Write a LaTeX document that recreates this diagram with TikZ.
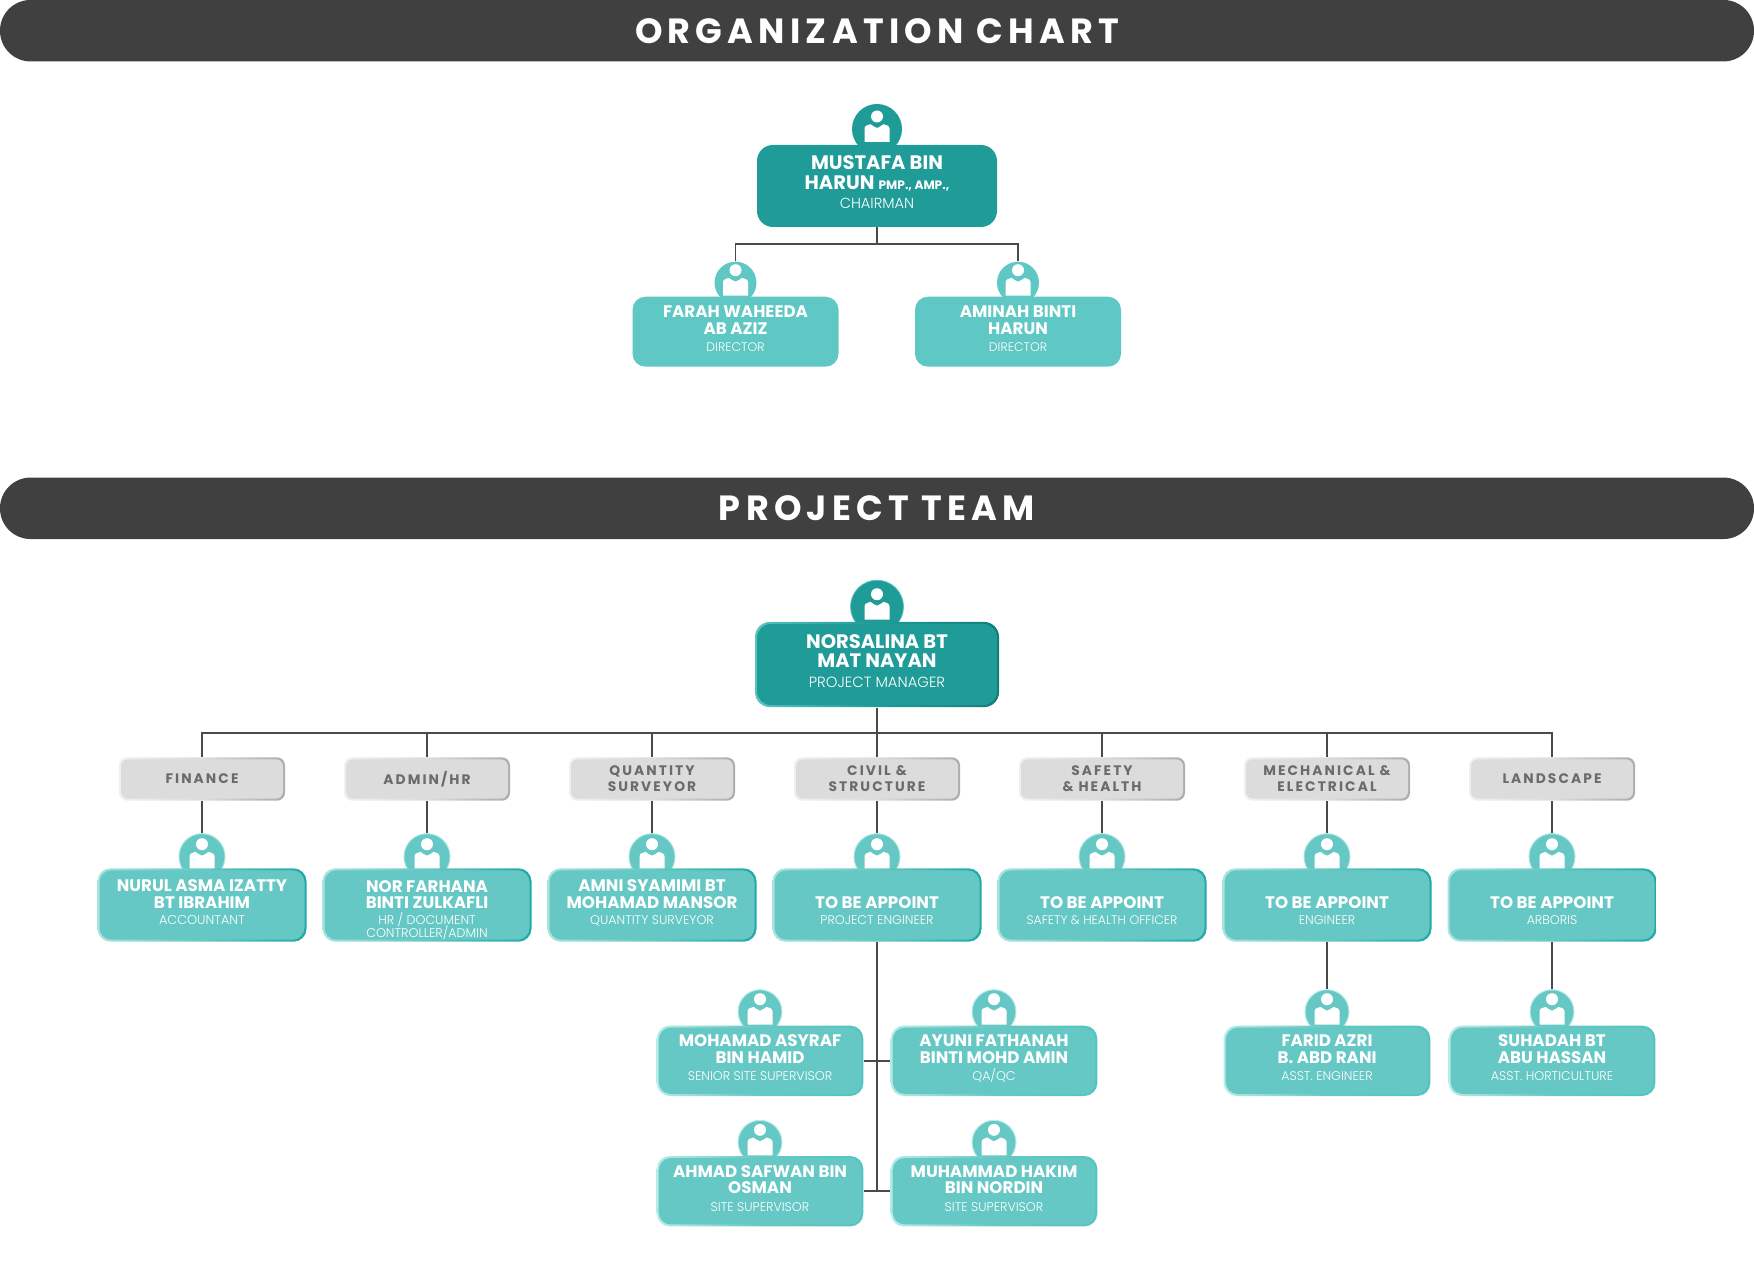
\documentclass[tikz,border=0pt]{standalone}
\usepackage{fontspec}
\setmainfont{Poppins}
\newfontfamily\lightfont{Poppins Light}
\newfontfamily\deptfont[LetterSpace=15]{Poppins}
\newfontfamily\titlefont[LetterSpace=15]{Poppins}
\usetikzlibrary{backgrounds,positioning}
\definecolor{bannerc}{HTML}{404040}
\definecolor{wirec}{HTML}{4A4A4A}
\definecolor{chiefc}{HTML}{1F9B98}
\definecolor{chiefhi}{HTML}{5CC4BF}
\definecolor{chieflo}{HTML}{147D7A}
\definecolor{topc}{HTML}{5FC7C4}
\definecolor{staffc}{HTML}{66C8C4}
\definecolor{staffhi}{HTML}{A8E4DF}
\definecolor{stafflo}{HTML}{1FA9A6}
\definecolor{lowhi}{HTML}{B5ECE8}
\definecolor{lowlo}{HTML}{55C4C0}
\definecolor{deptc}{HTML}{DCDCDC}
\definecolor{depthi}{HTML}{F0F0F0}
\definecolor{deptlo}{HTML}{ACACAC}
\definecolor{depttext}{HTML}{6B6B6B}
\newcommand\jobrole[2]{{\lightfont\mdseries\fontsize{#1}{#1}\selectfont #2}}
\newcommand\personicon{%
  \fill[white] (0,-12.5) circle[radius=6];
  \fill[white] (-12.5,13) -- (-12.5,-0.5) .. controls (-12.5,-3) and (-9,-4.5) .. (-6.5,-4.8)
    .. controls (-4.5,-3.5) and (-2,-1.5) .. (0,-1) .. controls (2,-1.5) and (4.5,-3.5) .. (6.5,-4.8)
    .. controls (9,-4.5) and (12.5,-3) .. (12.5,-0.5) -- (12.5,13) -- cycle;}
\tikzset{
  banner/.style={rectangle,fill=bannerc,text=white,minimum width=877pt,minimum height=30.75pt,rounded corners=15.3pt,inner sep=0pt,text height=12.6pt,text depth=0pt,font=\titlefont\bfseries\fontsize{17.5}{17.5}\selectfont},
  avatar/.style={circle,inner sep=0pt,minimum size=#1*0.5pt,path picture={
    \begin{scope}[shift={(path picture bounding box.center)},scale=#1/52]\personicon\end{scope}}},
  bevelbox/.style args={#1/#2/#3/#4}{rectangle,inner sep=0pt,rounded corners=#4,left color=#1,right color=#2,middle color=#3,
    path picture={\fill[#3,rounded corners=#4-0.5pt] ([xshift=1pt,yshift=-1pt]path picture bounding box.north west) rectangle ([xshift=-1pt,yshift=1pt]path picture bounding box.south east);}},
  namebox/.style={text=white,align=center,font=\bfseries\fontsize{8.35}{8.3}\selectfont},
  topbox/.style={rectangle,inner sep=0pt,rounded corners=6.5pt,fill=topc,namebox,minimum width=103pt,minimum height=35pt,text height=21pt,text depth=1pt},
  staffbox/.style={bevelbox=staffhi/stafflo/staffc/6.5pt,namebox,minimum width=104.5pt,minimum height=36.7pt,text height=20pt,text depth=1pt},
  lowbox/.style={bevelbox=lowhi/lowlo/staffc/6.5pt,namebox,minimum width=103.3pt,minimum height=35.2pt,text height=21pt,text depth=1pt},
  deptbox/.style={bevelbox=depthi/deptlo/deptc/4pt,text=depttext,align=center,minimum width=83pt,minimum height=21.7pt,font=\deptfont\bfseries\fontsize{6.9}{8}\selectfont},
  staffpic/.style={avatar=46,fill=staffc,draw=staffhi,line width=.5pt},
  lowpic/.style={avatar=44,fill=staffc,draw=lowhi,line width=.5pt},
  wire/.style={draw=wirec,line width=.85pt}
}
\begin{document}
\begin{tikzpicture}[x=0.5pt,y=-0.5pt]
  \useasboundingbox (0,0) rectangle (1754,1267);
  \node [banner] (orgtitle) at (877,30.7) {ORGANIZATION CHART};
  \node [banner] (teamtitle) at (877,508.3) {PROJECT TEAM};
  % board
  \node [avatar=50,fill=chiefc] (mustafapic) at (877,129) {};
  \node [rectangle,inner sep=0pt,rounded corners=8pt,fill=chiefc,text=white,align=center,minimum width=120pt,minimum height=41pt,text height=23.6pt,text depth=1pt,font=\bfseries\fontsize{9.75}{10}\selectfont] (mustafa) at (877,186)
    {MUSTAFA BIN\hspace{2pt}\\HARUN {\fontsize{6.1}{6}\selectfont PMP., AMP.,}\\[-.6pt]\jobrole{7.3}{CHAIRMAN}};
  \node [avatar=42,fill=topc] (farahpic) at (735.5,282.7) {};
  \node [avatar=42,fill=topc] (aminahpic) at (1018,282.7) {};
  \node [topbox] (farah) at (735.5,331.7) {FARAH WAHEEDA\hspace{2pt}\\AB AZIZ\\[.5pt]\jobrole{6.2}{DIRECTOR}};
  \node [topbox] (aminah) at (1018,331.7) {AMINAH BINTI\hspace{2pt}\\HARUN\\[.5pt]\jobrole{6.2}{DIRECTOR}};
  % project manager
  \node [avatar=53,fill=chiefc,draw=chiefhi,line width=.4pt] (pmpic) at (877,606.7) {};
  \node [bevelbox=chiefhi/chieflo/chiefc/7.5pt,text=white,align=center,minimum width=122pt,minimum height=42.6pt,text height=23.5pt,text depth=1pt,font=\bfseries\fontsize{9.75}{9.5}\selectfont] (pm) at (877,664.5)
    {NORSALINA BT\\MAT NAYAN\\[.5pt]\jobrole{7.4}{PROJECT MANAGER}};
  % departments
  \node [deptbox] (finance) at (202,779) {FINANCE};
  \node [deptbox] (adminhr) at (427,779) {ADMIN/HR};
  \node [deptbox] (qs) at (652,779) {QUANTITY\\SURVEYOR};
  \node [deptbox] (civil) at (877,779) {CIVIL \&\\STRUCTURE};
  \node [deptbox] (safety) at (1102,779) {SAFETY\\\& HEALTH};
  \node [deptbox] (mech) at (1327,779) {MECHANICAL \&\\ELECTRICAL};
  \node [deptbox] (landscape) at (1552,779) {LANDSCAPE};
  % staff
  \foreach \who/\xpos in {nurul/202,norfar/427,amni/652,engineer/877,safetyoff/1102,mecheng/1327,arboris/1552}
    \node [staffpic] (\who pic) at (\xpos,856.7) {};
  \node [staffbox] (nurul) at (202,905) {NURUL ASMA IZATTY\\BT IBRAHIM\\[-.4pt]\jobrole{6.4}{ACCOUNTANT}};
  \node [staffbox,text height=33pt] (norfar) at (427,905) {NOR FARHANA\\BINTI ZULKAFLI\\[-.4pt]\jobrole{6.3}{HR / DOCUMENT}\\[-2.1pt]\jobrole{6.3}{CONTROLLER/ADMIN}};
  \node [staffbox] (amni) at (652,905) {AMNI SYAMIMI BT\\MOHAMAD MANSOR\\[-.4pt]\jobrole{6.3}{QUANTITY SURVEYOR}};
  \node [staffbox] (engineer) at (877,905) {TO BE APPOINT\\[-.4pt]\jobrole{6.3}{PROJECT ENGINEER}};
  \node [staffbox] (safetyoff) at (1102,905) {TO BE APPOINT\\[-.4pt]\jobrole{6.2}{SAFETY \& HEALTH OFFICER}};
  \node [staffbox] (mecheng) at (1327,905) {TO BE APPOINT\\[-.4pt]\jobrole{6.3}{ENGINEER}};
  \node [staffbox] (arboris) at (1552,905) {TO BE APPOINT\\[-.4pt]\jobrole{6.3}{ARBORIS}};
  % lower rows
  \foreach \who/\xpos/\ypos in {asyraf/760/1011.7,ayuni/994/1011.7,farid/1327/1011.7,suhadah/1552/1011.7,safwan/760/1142.3,hakim/994/1142.3}
    \node [lowpic] (\who pic) at (\xpos,\ypos) {};
  \node [lowbox] (asyraf) at (760,1060.8) {MOHAMAD ASYRAF\\BIN HAMID\\[.5pt]\jobrole{6.3}{SENIOR SITE SUPERVISOR}};
  \node [lowbox] (ayuni) at (994,1060.8) {AYUNI FATHANAH\\BINTI MOHD AMIN\\[.5pt]\jobrole{6.3}{QA/QC}};
  \node [lowbox] (farid) at (1327,1060.8) {FARID AZRI\\B. ABD RANI\\[.5pt]\jobrole{6.3}{ASST. ENGINEER}};
  \node [lowbox] (suhadah) at (1552,1060.8) {SUHADAH BT\\ABU HASSAN\\[.5pt]\jobrole{6.3}{ASST. HORTICULTURE}};
  \node [lowbox] (safwan) at (760,1191.2) {AHMAD SAFWAN BIN\\OSMAN\\[.5pt]\jobrole{6.3}{SITE SUPERVISOR}};
  \node [lowbox] (hakim) at (994,1191.2) {MUHAMMAD HAKIM\hspace{2pt}\\BIN NORDIN\\[.5pt]\jobrole{6.3}{SITE SUPERVISOR}};
  % connectors
  \coordinate (topbus) at (877,244);
  \coordinate (teambus) at (877,732.7);
  \begin{scope}[on background layer]
    \path[wire] (mustafa.south) -- (topbus);
    \path[wire] (farahpic.north) |- (topbus) -| (aminahpic.north);
    \path[wire] (pm.south) -- (civil.north);
    \path[wire] (finance.north) |- (teambus) -| (landscape.north);
    \foreach \dept/\who in {finance/nurul,adminhr/norfar,qs/amni,civil/engineer,safety/safetyoff,mech/mecheng,landscape/arboris} {
      \path[wire] (\dept.north) -- (\dept.north |- teambus);
      \path[wire] (\dept.south) -- (\who pic.north);
    }
    \path[wire] (engineer.south) -- (engineer.south |- safwan.east);
    \path[wire] (asyraf.east) -- (ayuni.west);
    \path[wire] (safwan.east) -- (hakim.west);
    \path[wire] (mecheng.south) -- (faridpic.north);
    \path[wire] (arboris.south) -- (suhadahpic.north);
  \end{scope}
\end{tikzpicture}
\end{document}
